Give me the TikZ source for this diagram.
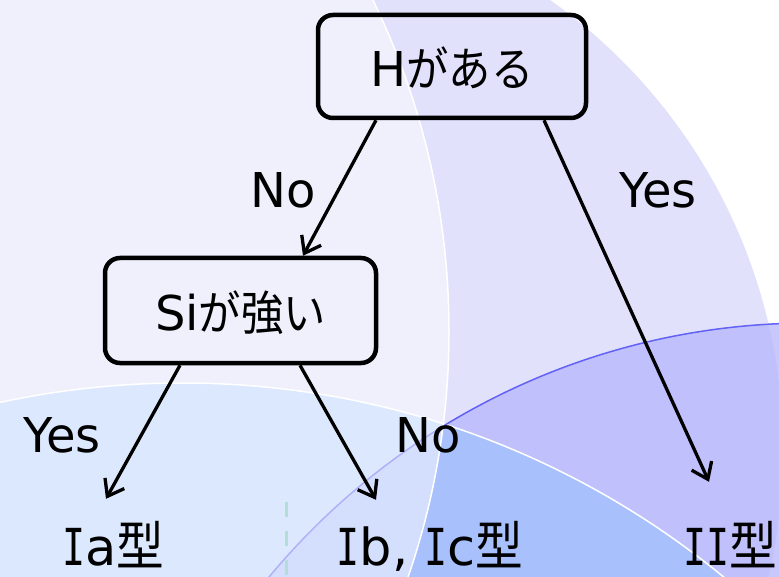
\documentclass[tikz,border=0pt]{standalone}
\usepackage{fontspec}
\setmainfont{DejaVu Sans}
\newfontfamily\jpfont{Noto Sans CJK JP}
\newfontfamily\monoIfont{DejaVu Sans Mono}
\usetikzlibrary{arrows.meta,calc}
\definecolor{rcol}{HTML}{E1E1FC}
\definecolor{ccol}{HTML}{C0C0FC}
\definecolor{coutcol}{HTML}{C8C8FC}
\definecolor{bccol}{HTML}{A8C0FC}
\definecolor{bcol}{HTML}{B9D1FC}
\definecolor{clinecol}{HTML}{6262F4}
\definecolor{dashcol}{HTML}{B2DED8}
\newcommand\serI{\scalebox{0.75}[1]{\monoIfont I}}
\newcommand\jpA[1]{\scalebox{0.9}[1]{\jpfont\fontsize{47}{52}\selectfont #1}}
\newcommand\jpB[1]{\scalebox{0.9}[1]{\jpfont\fontsize{53}{60}\selectfont #1}}
\begin{document}
\begin{tikzpicture}[x=1pt,y=-1pt,
  box/.style={draw, line width=4.5pt, rounded corners=15pt, inner sep=0pt,
    text height=40pt, text depth=0pt, font=\fontsize{48}{52}\selectfont},
  lab/.style={anchor=base, inner sep=0pt, font=\fontsize{48}{52}\selectfont},
  res/.style={anchor=base, inner sep=0pt, text height=40pt, text depth=10pt,
    font=\fontsize{51}{58}\selectfont},
  arr/.style={line width=3.3pt, -{Straight Barb[length=15pt,width=22pt]}}]
\useasboundingbox (0,0) rectangle (779,577);
\begin{scope}
  \clip (0,0) rectangle (779,577);
  \fill[white] (0,0) rectangle (779,577);
  \fill[rcol] (232,450) circle[radius=551pt];
  \fill[coutcol] (810,1026) circle[radius=703pt];
  \begin{scope}
    \clip (232,450) circle[radius=551pt];
    \fill[ccol] (810,1026) circle[radius=703pt];
  \end{scope}
  \fill[bcol] (182,1236) circle[radius=853pt];
  \begin{scope}
    \clip (182,1236) circle[radius=853pt];
    \fill[bccol] (810,1026) circle[radius=703pt];
  \end{scope}
  \draw[white, line width=1.5pt] (182,1236) circle[radius=853pt];
  \draw[clinecol, line width=1.5pt] (810,1026) circle[radius=703pt];
  \fill[white, fill opacity=0.5] (-307,331) circle[radius=756pt];
  \draw[white, line width=1.5pt] (-307,331) circle[radius=756pt];
  \coordinate (dtop) at (286,502);
  \coordinate (dbot) at (286,590);
  \draw[dashcol, line width=3pt, dash pattern=on 15pt off 14pt] (dtop) -- (dbot);
\end{scope}

\node[box, minimum width=268pt, minimum height=103pt] (h) at (452,66.5) {H\jpA{がある}};
\node[box, minimum width=271pt, minimum height=105pt] (s) at (240.5,310.5) {Si\jpA{が強い}};

\node[res] (ia) at (113.5,565) {\serI a\jpB{型}};
\node[res] (ib) at (430,565) {\serI b, \serI c\jpB{型}};
\node[res] (ii) at (730,565) {\serI\serI\jpB{型}};

\node[lab] (l1) at (283,208) {No};
\node[lab] (l2) at (658,208) {Yes};
\node[lab] (l3) at (62,452) {Yes};
\node[lab] (l4) at (428,452) {No};

\draw[arr] ([xshift=-76pt]h.south) -- ([xshift=62.5pt]s.north);
\draw[arr] ([xshift=92pt]h.south) -- ($(ii.north)+(-21,-43)$);
\draw[arr] ([xshift=-60.5pt]s.south) -- ($(ia.north)+(-7.5,-26)$);
\draw[arr] ([xshift=59.5pt]s.south) -- ($(ib.north)+(-54,-25)$);
\end{tikzpicture}
\end{document}
